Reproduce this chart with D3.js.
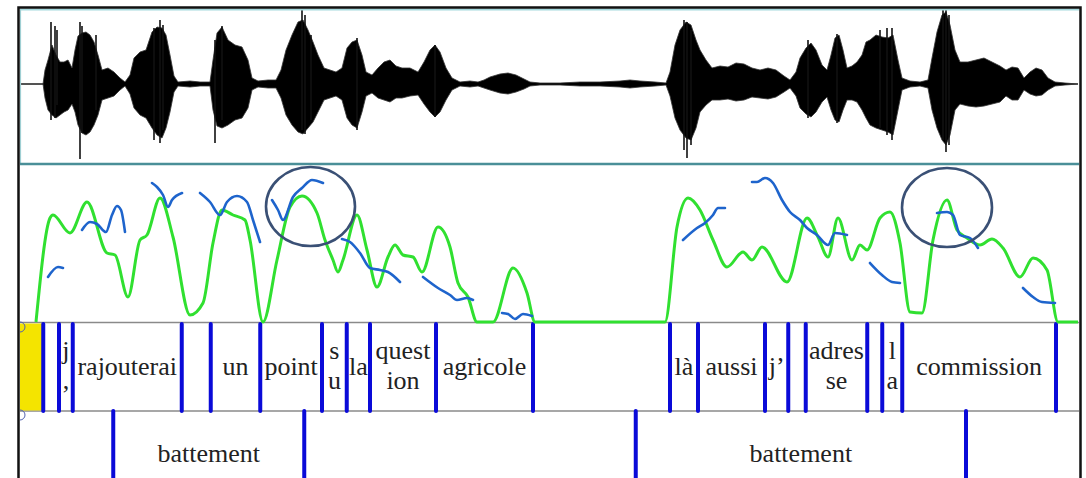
<!DOCTYPE html>
<html>
<head>
    <meta charset="utf-8">
    <style>
        body {
            margin: 0;
            background: #fff;
        }

        svg {
            display: block;
        }

        .lbl {
            font-family: 'Liberation Serif', 'Times New Roman', serif;
            font-size: 26px;
            fill: #222;
        }
    </style>
</head>

<body>
    <svg width="1086" height="478"></svg>

<script src="https://d3js.org/d3.v7.min.js"></script>
<script>
    // waveform envelope (time in ms, amplitude in thousandths)
    const envTime = [0, 92, 100, 112, 128, 144, 160, 176, 192, 208,
        220, 232, 248, 264, 280, 296, 312, 328, 352, 376,
        400, 420, 440, 456, 480, 504, 528, 548, 568, 584,
        600, 616, 632, 680, 720, 760, 772, 788, 808, 832,
        860, 888, 912, 928, 952, 992, 1024, 1044, 1064, 1088,
        1112, 1132, 1152, 1172, 1192, 1216, 1240, 1264, 1288, 1308,
        1328, 1348, 1368, 1384, 1408, 1432, 1456, 1480, 1504, 1528,
        1560, 1592, 1616, 1640, 1660, 1680, 1704, 1728, 1760, 1800,
        1832, 1856, 1880, 1920, 1952, 1984, 2016, 2040, 2080, 2160,
        2240, 2320, 2400, 2440, 2480, 2540, 2584, 2600, 2620, 2640,
        2664, 2684, 2704, 2720, 2744, 2768, 2800, 2832, 2864, 2896,
        2928, 2960, 2992, 3024, 3056, 3080, 3104, 3120, 3144, 3164,
        3184, 3208, 3228, 3244, 3260, 3276, 3292, 3308, 3328, 3348,
        3368, 3384, 3400, 3424, 3448, 3472, 3492, 3512, 3528, 3560,
        3600, 3632, 3648, 3668, 3688, 3704, 3720, 3740, 3760, 3792,
        3824, 3856, 3888, 3920, 3944, 3968, 3992, 4016, 4040, 4064,
        4088, 4112, 4140, 4180, 4232];
    const envHigh = [0, 0, 140, 240, 390, 290, 220, 220, 240, 160,
        340, 480, 510, 520, 490, 420, 290, 140, 160, 120,
        60, 20, 90, 260, 320, 340, 520, 570, 560, 490,
        290, 80, 20, 30, 20, 20, 240, 510, 570, 440,
        390, 370, 240, 60, 30, 40, 40, 140, 340, 490,
        620, 640, 540, 420, 290, 160, 140, 120, 160, 360,
        420, 440, 290, 120, 90, 160, 220, 240, 180, 160,
        160, 120, 220, 340, 390, 320, 160, 60, 20, 30,
        20, 40, 70, 100, 110, 90, 50, 20, 10, 10,
        20, 20, 30, 40, 30, 20, 10, 120, 390, 540,
        620, 590, 440, 340, 240, 160, 180, 170, 210, 200,
        160, 140, 160, 140, 80, 40, 120, 260, 360, 410,
        340, 190, 140, 290, 460, 490, 340, 160, 180, 220,
        290, 420, 440, 490, 470, 460, 490, 240, 60, 30,
        20, 40, 260, 520, 690, 720, 590, 340, 220, 220,
        240, 260, 220, 180, 140, 170, 160, 60, 120, 160,
        140, 60, 20, 10, 0];
    const envLow = [0, 0, -140, -260, -310, -340, -310, -280, -260, -200,
        -280, -410, -490, -510, -480, -410, -310, -160, -140, -120,
        -60, -20, -100, -240, -310, -340, -440, -510, -540, -440,
        -280, -80, -20, -30, -20, -20, -260, -420, -440, -410,
        -360, -340, -240, -60, -30, -40, -40, -140, -310, -410,
        -480, -500, -440, -380, -280, -160, -140, -120, -160, -340,
        -410, -440, -280, -120, -90, -140, -160, -180, -140, -140,
        -120, -110, -200, -280, -330, -280, -160, -60, -20, -30,
        -20, -40, -60, -90, -100, -80, -50, -20, -10, -10,
        -20, -20, -30, -40, -30, -20, -10, -120, -340, -460,
        -540, -560, -440, -280, -210, -160, -160, -150, -170, -160,
        -130, -140, -150, -130, -80, -40, -120, -240, -300, -330,
        -280, -180, -130, -260, -360, -380, -260, -160, -160, -180,
        -260, -340, -410, -440, -460, -480, -510, -260, -60, -30,
        -20, -40, -260, -440, -560, -610, -510, -260, -200, -220,
        -230, -220, -200, -180, -120, -160, -160, -60, -100, -120,
        -110, -60, -20, -10, 0];

    // single peaks sticking out of the envelope
    const spikeTime = [124, 140, 148, 240, 248, 304, 536, 560, 572, 780, 808, 1128, 1140, 1164,
        1348, 1660, 2656, 2668, 2684, 3152, 3268, 3440, 3468, 3488, 3692, 3704, 3716];
    const spikeHigh = [620, 580, 540, 620, 580, 490, 560, 640, 590, 440, 580, 750, 690, 490,
        460, 390, 640, 620, 540, 440, 500, 540, 560, 560, 740, 740, 690];
    const spikeLow = [-360, -340, -210, -750, -490, -260, -560, -590, -460, -590, -360, -460, -500, -360,
        -460, -330, -660, -740, -610, -340, -390, -440, -510, -560, -560, -680, -610];

    // intensity curve (green), dB
    const intTime = [64, 120, 132, 200, 268, 348, 380, 432, 480, 508,
        560, 612, 680, 732, 772, 808, 852, 900, 920, 972,
        1028, 1080, 1128, 1188, 1220, 1252, 1272, 1292, 1348, 1388,
        1428, 1472, 1500, 1532, 1572, 1608, 1672, 1720, 1752, 1792,
        1828, 1892, 1972, 2028, 2060, 2580, 2628, 2672, 2720, 2772,
        2828, 2892, 2928, 2968, 3068, 3148, 3192, 3232, 3272, 3328,
        3360, 3388, 3440, 3480, 3520, 3560, 3608, 3652, 3708, 3748,
        3788, 3840, 3888, 3932, 4000, 4052, 4108, 4152, 4232];
    const intDb = [0, 52, 53.5, 44.5, 60, 34.5, 33.5, 12.5, 41, 43.5,
        62, 42.5, 3.5, 9.5, 39.5, 56, 53.5, 51, 41, 0,
        31, 57.5, 63, 54.5, 41, 31, 25, 31, 53.5, 36,
        17.5, 32.5, 38.5, 33.5, 32.5, 25, 47.5, 37.5, 19.5, 12.5,
        0, 0, 27, 14.5, 0, 0, 47.5, 62, 56, 41,
        27.5, 35, 31, 37.5, 20, 52, 42.5, 32.5, 52, 31,
        38.5, 36, 52, 55, 39.5, 5, 4.5, 41, 61, 46,
        42, 38.5, 41.5, 37, 22.5, 32, 26, 0, 0];

    // pitch (blue), Hz, null = unvoiced break
    const f0Time = [112, 152, 172, null,
        248, 280, 308, 344, 368, 388, 404, 420, null,
        528, 548, 572, 592, 608, 648, null,
        720, 760, 800, 828, 868, 908, 932, 960, null,
        1008, 1032, 1052, 1092, 1128, 1168, 1212, null,
        1288, 1320, 1360, 1400, 1440, 1472, 1520, null,
        1612, 1672, 1720, 1748, 1788, 1812, null,
        1928, 1952, 1980, 2012, 2048, null,
        2652, 2708, 2740, 2772, 2792, 2820, null,
        2928, 2948, 2980, 3012, 3048, 3080, 3120, 3148, 3188, 3232, 3260, 3308, null,
        3400, 3448, 3488, 3520, null,
        3668, 3708, 3732, 3760, 3800, 3832, null,
        4012, 4052, 4088, 4140];
    const f0Hz = [140, 160, 158, null,
        234, 250, 246, 230, 264, 282, 274, 230, null,
        328, 320, 304, 280, 294, 308, null,
        308, 290, 264, 290, 302, 290, 254, 210, null,
        294, 274, 254, 300, 318, 334, 328, null,
        216, 210, 188, 158, 154, 150, 130, null,
        140, 118, 104, 94, 98, 94, null,
        68, 66, 56, 66, 62, null,
        214, 238, 248, 264, 278, 278, null,
        330, 330, 338, 328, 294, 270, 254, 238, 224, 204, 228, 224, null,
        168, 144, 130, 128, null,
        268, 270, 264, 224, 218, 198, null,
        118, 100, 90, 88];

    // circled pitch peaks: centre and half spans
    const circleTime = [1162, 3708];
    const circleHz = [281, 279];
    const circleSpanMs = [178, 180];
    const circleSpanHz = [79, 79];

    // annotation tiers
    const tier1Bounds = [0, 93, 156, 211, 647, 763, 961, 1208, 1307, 1400, 1664, 2052,
        2600, 2712, 2980, 3073, 3143, 3389, 3449, 3529, 4144, 4232];
    const tier1Text = ["", "", "j\n,", "rajouterai", "", "un", "point", "s\nu", "la", "quest\nion", "agricole",
        "", "là", "aussi", "j’", "", "adres\nse", "", "l\na", "commission", ""];
    const tier2Bounds = [0, 373, 1137, 2463, 3784, 4232];
    const tier2Text = ["", "battement", "", "battement", ""];

    let svg = d3.select("svg");

    let x = d3.scaleLinear().domain([0, 4232]).range([20, 1078]);
    let yWave = d3.scaleLinear().domain([-750, 750]).range([159, 9]);
    let yInt = d3.scaleLinear().domain([0, 79]).range([322, 164]);
    let yF0 = d3.scaleLinear().domain([50, 366]).range([322, 164]);

    // ---- waveform
    let env = envTime.map((t, i) => ({ t: t, hi: envHigh[i], lo: envLow[i] }));

    svg.append("line")
        .attr("x1", x(0)).attr("x2", x(4232))
        .attr("y1", yWave(0)).attr("y2", yWave(0))
        .style("stroke", "#222")
        .style("stroke-width", 1.2)

    svg.append("path")
        .datum(env)
        .attr("d", d3.area().x(d => x(d.t)).y0(d => yWave(d.lo)).y1(d => yWave(d.hi)))
        .style("fill", "#000")
        .style("stroke", "#333")
        .style("stroke-width", 0.8)

    svg.selectAll(".spike")
        .data(spikeTime.map((t, i) => ({ t: t, hi: spikeHigh[i], lo: spikeLow[i] })))
        .join("line")
        .attr("class", "spike")
        .attr("x1", d => x(d.t)).attr("x2", d => x(d.t))
        .attr("y1", d => yWave(d.hi)).attr("y2", d => yWave(d.lo))
        .style("stroke", "#111")
        .style("stroke-width", 1.6)

    // ---- panel separators
    svg.append("line")
        .attr("x1", 20).attr("x2", 1079).attr("y1", 9.5).attr("y2", 9.5)
        .style("stroke", "#a5d9dd").style("stroke-width", 2)
    svg.append("line")
        .attr("x1", 20.5).attr("x2", 20.5).attr("y1", 9).attr("y2", 164)
        .style("stroke", "#9fcfd3").style("stroke-width", 1.2)
    svg.append("line")
        .attr("x1", 20).attr("x2", 1079).attr("y1", 164).attr("y2", 164)
        .style("stroke", "#4a8f98").style("stroke-width", 2.5)
    svg.append("line")
        .attr("x1", 20).attr("x2", 1079).attr("y1", 322.5).attr("y2", 322.5)
        .style("stroke", "#8a8a8a").style("stroke-width", 1.6)
    svg.append("line")
        .attr("x1", 20).attr("x2", 1079).attr("y1", 411).attr("y2", 411)
        .style("stroke", "#8a8a8a").style("stroke-width", 1.6)

    // ---- tier 1
    svg.append("rect")
        .attr("x", x(tier1Bounds[0]))
        .attr("y", 323.5)
        .attr("width", x(tier1Bounds[1]) - x(tier1Bounds[0]))
        .attr("height", 87)
        .style("fill", "#f4e400")

    let tier1 = tier1Text.map((s, i) => ({ a: tier1Bounds[i], b: tier1Bounds[i + 1], s: s }));
    let tier2 = tier2Text.map((s, i) => ({ a: tier2Bounds[i], b: tier2Bounds[i + 1], s: s }));

    function writeLabels(data, single, first, second) {
        data.filter(d => d.s != "").forEach(d => {
            let parts = d.s.split("\n");
            let txt = svg.append("text")
                .attr("class", "lbl")
                .attr("text-anchor", "middle")
            parts.forEach((p, k) => {
                txt.append("tspan")
                    .attr("x", x((d.a + d.b) / 2))
                    .attr("y", parts.length == 1 ? single : (k == 0 ? first : second))
                    .text(p)
            })
        })
    }
    writeLabels(tier1, 375, 359, 389);
    writeLabels(tier2, 462, 462, 462);

    svg.selectAll(".b1")
        .data(tier1Bounds.slice(1, -1))
        .join("line")
        .attr("class", "b1")
        .attr("x1", d => x(d)).attr("x2", d => x(d))
        .attr("y1", 324).attr("y2", 411)
        .style("stroke", "#0a0ad8")
        .style("stroke-width", 4)
        .style("stroke-linecap", "round")

    svg.selectAll(".b2")
        .data(tier2Bounds.slice(1, -1))
        .join("line")
        .attr("class", "b2")
        .attr("x1", d => x(d)).attr("x2", d => x(d))
        .attr("y1", 411).attr("y2", 480)
        .style("stroke", "#0a0ad8")
        .style("stroke-width", 4)
        .style("stroke-linecap", "round")

    // little tier handles at the left edge
    svg.selectAll(".handle")
        .data([327, 415])
        .join("path")
        .attr("class", "handle")
        .attr("d", d => "M20," + (d - 5) + " A5,5 0 0 1 20," + (d + 5))
        .style("fill", "none")
        .style("stroke", "#5060b0")
        .style("stroke-width", 1)

    // ---- pitch panel
    svg.append("path")
        .datum(intTime.map((t, i) => ({ t: t, v: intDb[i] })))
        .attr("d", d3.line().x(d => x(d.t)).y(d => yInt(d.v)).curve(d3.curveMonotoneX))
        .style("fill", "none")
        .style("stroke", "#30e030")
        .style("stroke-width", 3)
        .style("stroke-linejoin", "round")

    svg.append("path")
        .datum(f0Time.map((t, i) => ({ t: t, v: f0Hz[i] })))
        .attr("d", d3.line()
            .defined(d => d.v != null)
            .x(d => x(d.t)).y(d => yF0(d.v))
            .curve(d3.curveMonotoneX))
        .style("fill", "none")
        .style("stroke", "#1e64cc")
        .style("stroke-width", 2.6)
        .style("stroke-linecap", "round")

    svg.selectAll(".ring")
        .data(circleTime.map((t, i) => ({ t: t, v: circleHz[i], sx: circleSpanMs[i], sy: circleSpanHz[i] })))
        .join("ellipse")
        .attr("class", "ring")
        .attr("cx", d => x(d.t))
        .attr("cy", d => yF0(d.v))
        .attr("rx", d => x(d.t + d.sx) - x(d.t))
        .attr("ry", d => yF0(d.v - d.sy) - yF0(d.v))
        .style("fill", "none")
        .style("stroke", "#3a5075")
        .style("stroke-width", 2.6)

    // ---- outer frame
    svg.append("path")
        .attr("d", "M18.5,478 L18.5,7.5 L1080.5,7.5 L1080.5,478")
        .style("fill", "none")
        .style("stroke", "#111")
        .style("stroke-width", 2.5)
</script>
</body>
</html>
